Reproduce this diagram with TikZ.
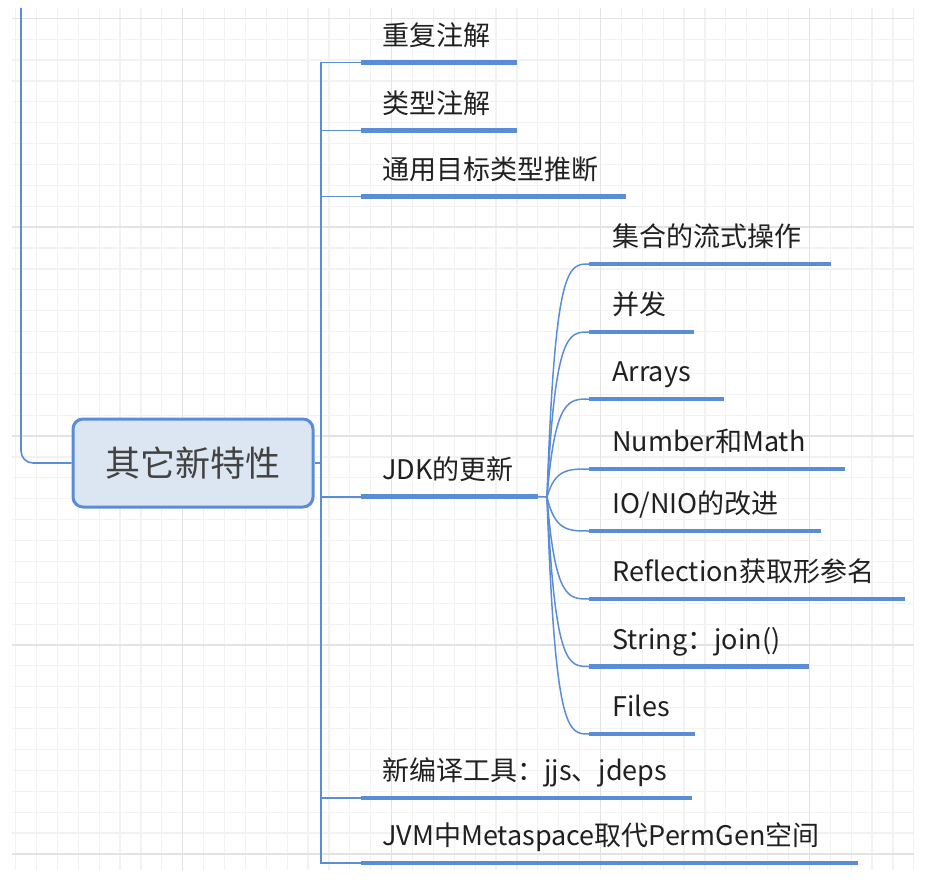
\documentclass[tikz,border=0pt]{standalone}
\usepackage{fontspec}
\setmainfont{Noto Sans CJK SC}
\usetikzlibrary{positioning,calc}
\definecolor{Bc}{HTML}{5B8DD7}
\definecolor{Fc}{HTML}{DCE6F2}
\definecolor{Tc}{HTML}{202020}
\definecolor{gmin}{HTML}{F2F2F2}
\definecolor{gmaj}{HTML}{E3E3E3}
\tikzset{
  root/.style={rectangle, rounded corners=10pt, draw=Bc, fill=Fc, line width=3pt,
    minimum width=240pt, minimum height=88pt, text=Tc!85, font=\fontsize{35}{40}\selectfont},
  topic/.style={anchor=base west, inner sep=0pt, text=Tc, font=\fontsize{27}{32}\selectfont},
  uline/.style={Bc, line width=4.5pt},
  conn/.style={Bc, line width=1.6pt},
  twig/.style={Bc, line width=1.5pt},
  gline/.style={gmin, line width=1.2pt},
  gbold/.style={gmaj, line width=1.4pt},
}
\newcommand{\paper}[4]{% x0, x1, y0, y1 (px)
  \foreach \k in {-8,...,35} \draw[gline] ({182.7+\k*20.89},#3) -- ({182.7+\k*20.89},#4);
  \foreach \k in {0,...,40} \draw[gline] (#1,{18.3+\k*20.89}) -- (#2,{18.3+\k*20.89});
  \foreach \k in {0,...,3} \draw[gbold] ({182.7+\k*208.9},#3) -- ({182.7+\k*208.9},#4);
  \foreach \k in {0,...,4} \draw[gbold] (#1,{18.3+\k*208.9}) -- (#2,{18.3+\k*208.9});}

\begin{document}
\begin{tikzpicture}[x=1pt, y=-1pt]
  \useasboundingbox (0,0) rectangle (944,882);
  \paper{12}{914}{8}{870}
  % central topic, fed from the left margin
  \node[root] (root) at (193,463) {其它新特性};
  \coordinate (top) at (21,8);
  \draw[conn, rounded corners=12pt] (top) |- (root.west);
  % first level: spine and underlined topics
  \coordinate (sp) at (321,463);
  \draw[conn] (root.east) -- (sp);
  \foreach \i/\y/\e/\txt in {1/62.7/517/重复注解, 2/130.7/517/类型注解, 3/196.7/626/通用目标类型推断,
      4/496.7/538/JDK的更新, 5/798/692/新编译工具：jjs、jdeps, 6/863/858/JVM中Metaspace取代PermGen空间} {
    \coordinate (a\i) at (361,\y); \coordinate (b\i) at (\e,\y);
    \draw[conn] (sp) |- (a\i);
    \draw[uline] (a\i) -- (b\i);
    \node[topic] (t\i) at ([shift={(21,-17.5)}]a\i) {\txt};
  }
  % second level under JDK: curved twigs from one fan point
  \coordinate (fan) at (547,497);
  \draw[conn] (b4) -- (fan);
  \foreach \j/\y/\e/\txt in {1/264/831/集合的流式操作, 2/332/694/并发, 3/399/724/Arrays,
      4/469/845/Number和Math, 5/531/821/{IO/NIO的改进}, 6/599/905/Reflection获取形参名,
      7/666.5/809/String：join(), 8/734/695/Files} {
    \coordinate (c\j) at (589,\y); \coordinate (d\j) at (\e,\y);
    \draw[twig] (fan) .. controls (555,\y) and (568,\y) .. (c\j);
    \draw[uline] (c\j) -- (d\j);
    \node[topic] (s\j) at ([shift={(23,-17.5)}]c\j) {\txt};
  }
\end{tikzpicture}
\end{document}
